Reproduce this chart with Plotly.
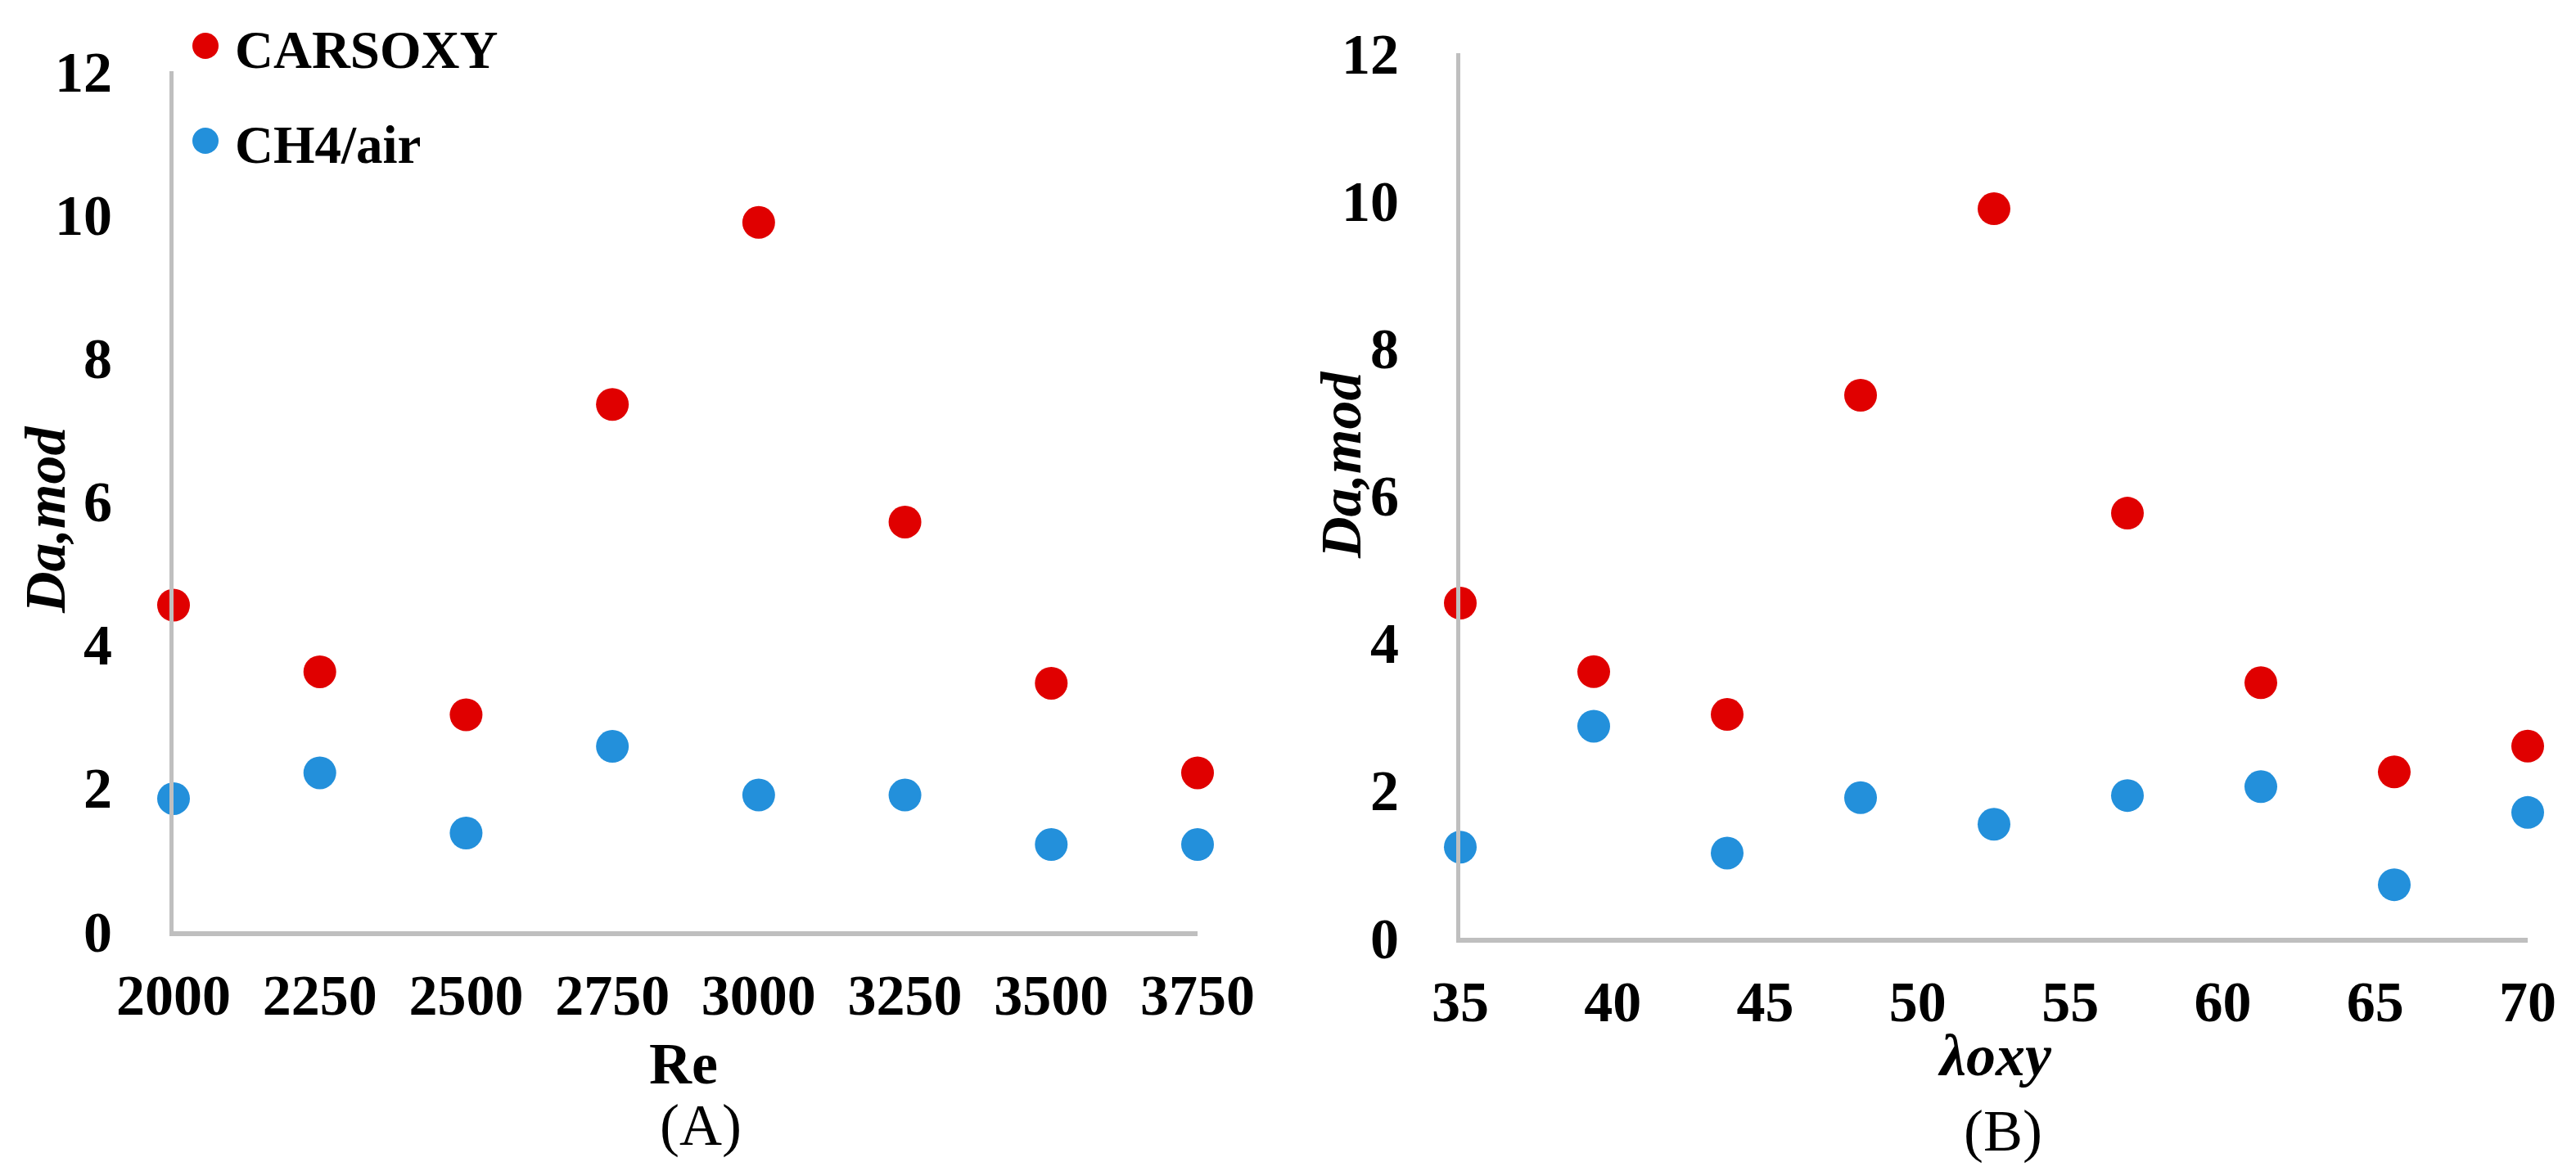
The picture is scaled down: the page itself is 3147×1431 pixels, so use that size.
import plotly.graph_objects as go

# ---- data ----
re_values = [2000, 2250, 2500, 2750, 3000, 3250, 3500, 3750]
carsoxy_re = [4.55, 3.62, 3.02, 7.35, 9.89, 5.71, 3.46, 2.21]
ch4_re = [1.85, 2.21, 1.37, 2.58, 1.90, 1.90, 1.21, 1.21]

lambda_values = [35, 39.375, 43.75, 48.125, 52.5, 56.875, 61.25, 65.625, 70]
carsoxy_lam = [4.54, 3.61, 3.03, 7.36, 9.89, 5.76, 3.46, 2.25, 2.60]
ch4_lam = [1.23, 2.87, 1.15, 1.90, 1.54, 1.93, 2.05, 0.72, 1.70]

re_ticks = [2000, 2250, 2500, 2750, 3000, 3250, 3500, 3750]
lam_ticks = [35, 40, 45, 50, 55, 60, 65, 70]
y_ticks = [0, 2, 4, 6, 8, 10, 12]

series_names = ["CARSOXY", "CH4/air"]
RED = "#E00000"
BLUE = "#2390DB"
FONT = "Liberation Serif"
W, H = 3147, 1431
OFF = 8  # default page body margin


def px(x):
    return (x - OFF) / W


def py(y):
    return 1 - (y - OFF) / H


fig = go.Figure()
for xs, ys, col, name, xa, ya in [
    (re_values, carsoxy_re, RED, series_names[0], "x", "y"),
    (re_values, ch4_re, BLUE, series_names[1], "x", "y"),
    (lambda_values, carsoxy_lam, RED, series_names[0], "x2", "y2"),
    (lambda_values, ch4_lam, BLUE, series_names[1], "x2", "y2"),
]:
    fig.add_trace(go.Scatter(
        x=xs, y=ys, mode="markers", name=name, xaxis=xa, yaxis=ya,
        marker=dict(color=col, size=40, line=dict(width=0)),
        cliponaxis=False, showlegend=False,
    ))

tickfont = dict(family=FONT, size=70, color="black", weight="bold")
axis_common = dict(showgrid=False, zeroline=False, ticks="", showline=True,
                   linecolor="#BFBFBF", tickfont=tickfont, automargin=False)

fig.update_layout(
    width=W, height=H,
    margin=dict(l=0, r=0, t=0, b=0, autoexpand=False),
    paper_bgcolor="white", plot_bgcolor="white",
    xaxis=dict(domain=[px(212), px(1463)], range=[2000, 3750], tickvals=re_ticks,
               anchor="y", linewidth=6, ticklabelstandoff=12, **axis_common),
    yaxis=dict(domain=[py(1138), py(87)], range=[0, 12], tickvals=y_ticks,
               anchor="x", linewidth=5, ticklabelstandoff=56, **axis_common),
    xaxis2=dict(domain=[px(1784), px(3088)], range=[35, 70], tickvals=lam_ticks,
                anchor="y2", linewidth=6, ticklabelstandoff=12, **axis_common),
    yaxis2=dict(domain=[py(1146), py(65)], range=[0, 12], tickvals=y_ticks,
                anchor="x2", linewidth=5, ticklabelstandoff=56, **axis_common),
)


def ann(text, x, y, size, angle=0):
    fig.add_annotation(text=text, x=px(x), y=py(y), xref="paper", yref="paper",
                       showarrow=False, textangle=angle, xanchor="center", yanchor="middle",
                       font=dict(family=FONT, size=size, color="black"))


ann("<b><i>Da,mod</i></b>", 55, 635, 70, -90)
ann("<b><i>Da,mod</i></b>", 1638, 568, 70, -90)
ann("<b>Re</b>", 835, 1300, 72)
ann("(A)", 856, 1375, 72)
ann("<b><i>λoxy</i></b>", 2437, 1290, 72)
ann("(B)", 2447, 1382, 72)

# legend (drawn manually so the symbol size matches)
for i, (name, col) in enumerate(zip(series_names, [RED, BLUE])):
    cy = [56, 172][i]
    fig.add_shape(type="circle", xref="paper", yref="paper",
                  xsizemode="pixel", ysizemode="pixel",
                  xanchor=px(251), yanchor=py(cy),
                  x0=-16, x1=16, y0=-16, y1=16,
                  fillcolor=col, line=dict(width=0))
    fig.add_annotation(text="<b>" + name + "</b>", x=px(285), y=py(cy + 5),
                       xref="paper", yref="paper", showarrow=False,
                       xanchor="left", yanchor="middle",
                       font=dict(family=FONT, size=65, color="black"))

fig.write_html("out.html")
